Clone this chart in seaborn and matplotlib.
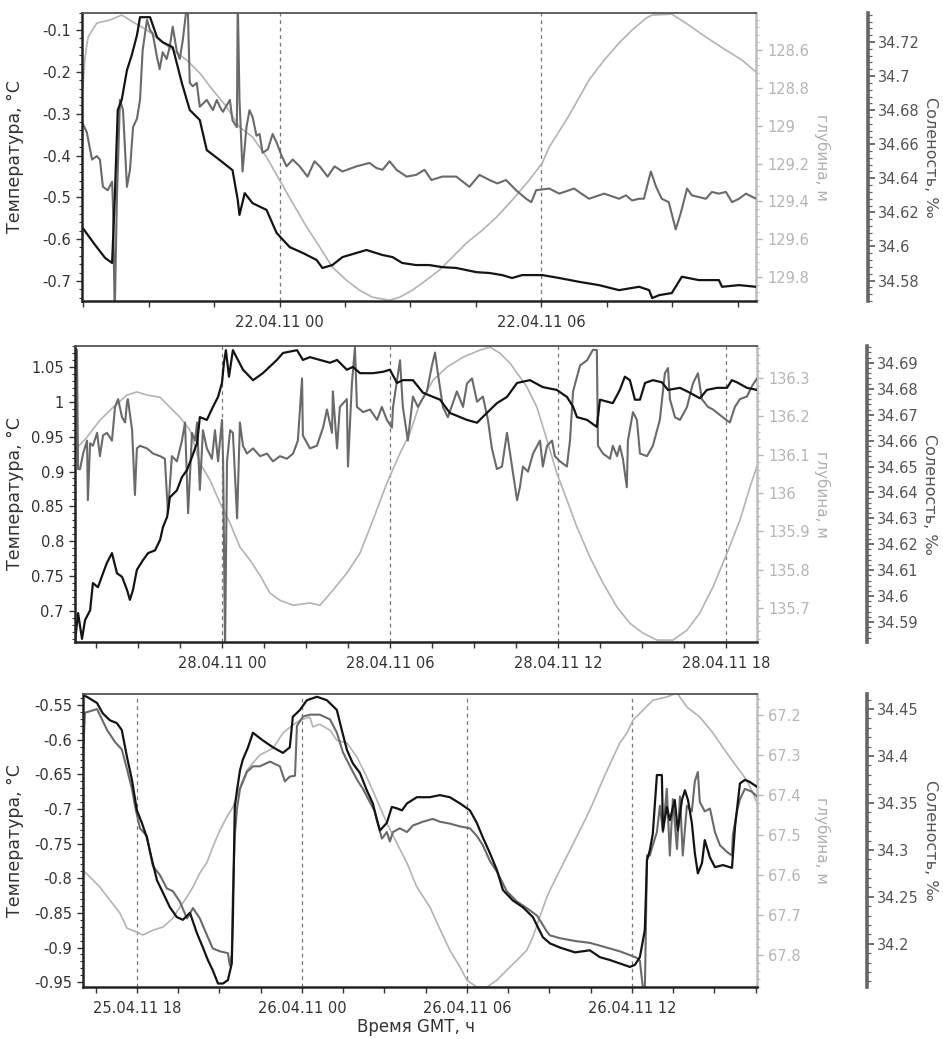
import numpy as np
import pandas as pd
import matplotlib
matplotlib.use("Agg")
import matplotlib.pyplot as plt
import seaborn as sns
from matplotlib.ticker import MultipleLocator, AutoMinorLocator, FuncFormatter, FixedLocator

# ---------------- DATA (hours relative to the first labelled tick of each panel) ----------------
# Panel 1: reference 22.04.11 00:00
P1_XTICK_HOURS = [0, 6]
P1_XTICK_LABELS = ["22.04.11 00", "22.04.11 06"]

P1_TEMP_H = [-4.53,-4.23,-4.00,-3.84,-3.78,-3.71,-3.62,-3.50,-3.39,-3.27,-3.20,-2.97,-2.81,-2.68,-2.45,-2.24,-2.06,-1.83,-1.67,-1.37,
             -1.08,-0.96,-0.92,-0.80,-0.62,-0.30,-0.07,0.23,0.53,0.85,0.98,1.21,1.44,1.99,2.36,2.59,2.81,3.13,3.43,3.73,
             4.05,4.51,4.81,5.10,5.33,5.56,6.02,6.41,6.86,7.32,7.78,8.24,8.47,8.54,8.70,8.99,9.22,9.61,10.07,10.14,10.53,10.92]
P1_TEMP = [-0.571,-0.614,-0.645,-0.657,-0.506,-0.291,-0.267,-0.196,-0.160,-0.112,-0.069,-0.069,-0.117,-0.129,-0.141,-0.227,-0.291,-0.315,-0.387,-0.411,
           -0.435,-0.506,-0.542,-0.490,-0.514,-0.530,-0.585,-0.619,-0.633,-0.650,-0.669,-0.662,-0.643,-0.626,-0.638,-0.643,-0.657,-0.662,-0.662,-0.667,
           -0.669,-0.679,-0.681,-0.686,-0.693,-0.686,-0.686,-0.693,-0.702,-0.710,-0.722,-0.714,-0.722,-0.741,-0.734,-0.729,-0.690,-0.698,-0.698,-0.714,-0.710,-0.714]

P1_SAL_H = [-4.53,-4.42,-4.30,-4.19,-4.12,-4.05,-3.94,-3.84,-3.82,-3.78,-3.73,-3.66,-3.59,-3.50,-3.43,-3.36,-3.27,-3.20,-3.14,-3.04,
            -2.97,-2.91,-2.81,-2.75,-2.68,-2.59,-2.52,-2.45,-2.36,-2.29,-2.22,-2.11,-2.06,-1.99,-1.90,-1.83,-1.67,-1.53,-1.44,-1.37,
            -1.30,-1.14,-1.08,-0.98,-0.96,-0.92,-0.85,-0.76,-0.69,-0.62,-0.53,-0.46,-0.39,-0.27,-0.16,-0.07,0.05,0.16,0.30,0.46,
            0.64,0.80,0.92,1.10,1.26,1.44,1.76,2.06,2.22,2.36,2.52,2.68,2.91,3.13,3.32,3.48,3.73,4.05,4.35,4.58,
            4.81,4.99,5.19,5.42,5.65,5.77,5.88,6.18,6.41,6.75,7.09,7.44,7.78,7.94,8.08,8.24,8.35,8.51,8.63,8.76,
            8.92,9.08,9.20,9.34,9.45,9.77,9.91,10.07,10.23,10.37,10.53,10.69,10.92]
P1_SAL = [34.673,34.667,34.651,34.653,34.651,34.635,34.633,34.638,34.624,34.56,34.628,34.686,34.680,34.635,34.645,34.670,34.675,34.686,34.715,34.733,
          34.727,34.725,34.711,34.704,34.714,34.710,34.717,34.729,34.715,34.710,34.721,34.745,34.696,34.694,34.696,34.682,34.686,34.680,34.686,34.682,
          34.679,34.686,34.674,34.670,34.745,34.686,34.644,34.670,34.680,34.676,34.665,34.666,34.655,34.657,34.666,34.661,34.653,34.647,34.651,34.647,
          34.641,34.650,34.647,34.641,34.647,34.644,34.647,34.649,34.646,34.645,34.650,34.645,34.641,34.642,34.645,34.639,34.641,34.641,34.635,34.642,
          34.639,34.637,34.639,34.633,34.628,34.626,34.633,34.634,34.631,34.634,34.628,34.631,34.628,34.630,34.627,34.628,34.628,34.644,34.635,34.628,
          34.626,34.610,34.620,34.634,34.630,34.628,34.632,34.631,34.632,34.626,34.628,34.631,34.628]

P1_DEP_H = [-4.51,-4.46,-4.39,-4.19,-3.89,-3.62,-3.36,-3.04,-2.75,-2.45,-2.13,-1.83,-1.53,-1.21,-0.92,-0.62,-0.30,0.00,0.30,0.62,
            0.92,1.21,1.53,1.83,2.13,2.52,2.75,3.04,3.36,3.66,3.96,4.28,4.65,4.97,5.33,5.72,6.02,6.18,6.64,7.09,
            7.44,7.78,8.08,8.40,8.54,8.99,9.31,9.77,10.23,10.60,10.92]
P1_DEP = [128.796,128.637,128.531,128.457,128.441,128.415,128.452,128.494,128.547,128.600,128.653,128.722,128.812,128.902,129.007,129.060,129.166,129.288,129.409,129.536,
          129.642,129.748,129.817,129.870,129.907,129.923,129.907,129.870,129.817,129.764,129.695,129.621,129.552,129.484,129.394,129.288,129.198,129.113,128.944,128.759,
          128.653,128.563,128.494,128.431,128.415,128.410,128.457,128.531,128.600,128.653,128.716]

# Panel 2: reference 28.04.11 00:00
P2_XTICK_HOURS = [0, 6, 12, 18]
P2_XTICK_LABELS = ["28.04.11 00", "28.04.11 06", "28.04.11 12", "28.04.11 18"]

P2_TEMP_H = [-5.25,-5.14,-5.00,-4.89,-4.71,-4.61,-4.43,-4.25,-4.11,-3.93,-3.75,-3.57,-3.39,-3.29,-3.18,-3.04,-2.82,-2.64,-2.39,-2.21,
             -2.11,-1.96,-1.86,-1.61,-1.43,-1.25,-1.07,-0.89,-0.79,-0.54,-0.32,-0.14,0.00,0.07,0.14,0.25,0.39,0.75,1.11,1.46,
             1.96,2.18,2.68,2.89,3.14,3.50,3.86,4.11,4.46,4.68,4.93,5.39,5.75,6.00,6.25,6.46,6.82,7.18,7.54,7.79,
             8.14,8.75,9.11,9.46,9.82,10.18,10.54,11.00,11.46,11.96,12.32,12.54,12.68,13.04,13.39,13.50,13.96,14.21,14.39,14.57,
             14.75,14.93,15.11,15.39,15.71,15.93,16.36,16.71,17.07,17.32,17.68,18.04,18.21,18.39,18.75,19.11]
P2_TEMP = [0.655,0.697,0.660,0.687,0.701,0.740,0.734,0.754,0.769,0.783,0.754,0.749,0.730,0.716,0.730,0.759,0.773,0.783,0.787,0.802,
           0.820,0.835,0.863,0.873,0.892,0.902,0.921,0.941,0.978,0.974,0.993,1.007,1.027,1.056,1.074,1.036,1.074,1.046,1.031,1.041,
           1.060,1.070,1.074,1.060,1.064,1.060,1.056,1.060,1.046,1.050,1.041,1.041,1.043,1.046,1.027,1.031,1.031,1.013,1.007,1.003,
           0.984,0.974,0.970,0.984,0.998,1.007,1.027,1.031,1.021,1.017,1.007,0.993,0.978,0.974,0.964,1.003,0.998,1.017,1.036,1.031,
           1.003,1.003,1.027,1.031,1.028,1.017,1.020,1.013,1.005,1.017,1.020,1.020,1.031,1.028,1.020,1.017]

P2_SAL_H = [-5.25,-5.18,-5.14,-5.07,-4.96,-4.82,-4.79,-4.71,-4.61,-4.46,-4.36,-4.25,-4.11,-3.93,-3.82,-3.71,-3.57,-3.46,-3.39,-3.36,
            -3.21,-3.11,-3.04,-2.93,-2.68,-2.46,-2.21,-2.04,-1.93,-1.79,-1.61,-1.43,-1.32,-1.21,-1.07,-0.96,-0.89,-0.79,-0.68,-0.54,
            -0.36,-0.25,-0.14,0.00,0.04,0.11,0.18,0.29,0.39,0.54,0.64,0.75,0.89,1.11,1.36,1.61,1.82,2.07,2.32,2.54,
            2.71,2.86,2.89,3.14,3.39,3.61,3.75,3.93,3.96,4.11,4.21,4.46,4.50,4.64,4.75,4.82,5.04,5.29,5.54,5.71,
            5.89,6.07,6.11,6.29,6.36,6.46,6.64,6.82,7.00,7.32,7.50,7.61,7.71,7.89,8.07,8.39,8.61,8.75,8.93,9.11,
            9.32,9.50,9.64,9.82,10.00,10.18,10.36,10.54,10.64,10.75,10.93,11.11,11.36,11.46,11.61,11.79,11.89,12.07,12.32,12.43,
            12.54,12.79,13.04,13.25,13.39,13.43,13.61,13.86,13.96,14.11,14.21,14.32,14.46,14.50,14.68,14.82,14.93,15.18,15.39,15.64,
            15.82,15.93,16.00,16.18,16.36,16.61,16.82,17.00,17.14,17.36,17.54,17.89,18.14,18.32,18.50,18.75,18.93,19.11]
P2_SAL = [34.695,34.695,34.649,34.649,34.655,34.660,34.637,34.659,34.658,34.663,34.654,34.662,34.663,34.660,34.673,34.676,34.669,34.667,34.675,34.676,
          34.664,34.639,34.657,34.658,34.657,34.655,34.654,34.653,34.632,34.654,34.652,34.660,34.667,34.632,34.663,34.660,34.667,34.641,34.664,34.657,
          34.653,34.664,34.652,34.668,34.652,34.58,34.652,34.664,34.663,34.630,34.667,34.658,34.655,34.657,34.654,34.655,34.652,34.654,34.653,34.655,
          34.660,34.684,34.662,34.657,34.658,34.665,34.672,34.663,34.679,34.657,34.673,34.676,34.650,34.682,34.696,34.673,34.671,34.672,34.668,34.673,
          34.668,34.665,34.673,34.686,34.691,34.673,34.660,34.677,34.673,34.679,34.689,34.694,34.686,34.673,34.669,34.679,34.673,34.682,34.684,34.675,
          34.677,34.668,34.657,34.649,34.650,34.663,34.650,34.637,34.642,34.650,34.648,34.655,34.660,34.650,34.658,34.660,34.654,34.652,34.650,34.660,
          34.679,34.689,34.691,34.695,34.695,34.658,34.655,34.653,34.658,34.654,34.658,34.653,34.642,34.660,34.671,34.668,34.655,34.654,34.658,34.668,
          34.686,34.688,34.676,34.669,34.668,34.673,34.682,34.686,34.676,34.673,34.672,34.669,34.667,34.673,34.676,34.677,34.681,34.684]

P2_DEP_H = [-5.25,-4.82,-4.36,-3.89,-3.39,-3.04,-2.68,-2.21,-1.86,-1.50,-1.14,-0.79,-0.43,-0.07,0.29,0.64,1.00,1.36,1.71,2.07,
            2.54,3.14,3.50,3.96,4.46,4.93,5.39,5.89,6.36,6.71,7.07,7.54,8.04,8.61,9.21,9.57,9.93,10.29,10.64,10.89,
            11.25,11.61,11.96,12.32,12.68,13.14,13.61,14.11,14.57,15.04,15.54,16.11,16.61,17.07,17.54,18.04,18.50,18.86,19.11]
P2_DEP = [136.112,136.146,136.190,136.224,136.256,136.264,136.256,136.250,136.224,136.198,136.164,136.078,136.034,135.974,135.921,135.859,135.825,135.785,135.739,135.720,
          135.707,135.713,135.707,135.746,135.791,135.843,135.929,136.026,136.104,136.156,136.235,136.295,136.329,136.355,136.373,136.381,136.365,136.339,136.303,136.277,
          136.224,136.138,136.052,135.982,135.911,135.833,135.765,135.702,135.660,135.634,135.616,135.616,135.642,135.687,135.755,135.843,135.929,136.016,136.070]

# Panel 3: reference 25.04.11 18:00
P3_XTICK_HOURS = [0, 6, 12, 18]
P3_XTICK_LABELS = ["25.04.11 18", "26.04.11 00", "26.04.11 06", "26.04.11 12"]

P3_TEMP_H = [-1.96,-1.82,-1.45,-1.24,-0.98,-0.73,-0.55,-0.36,-0.18,0.00,0.18,0.36,0.55,0.73,0.95,1.20,1.45,1.67,1.93,2.18,
             2.40,2.58,2.76,2.95,3.13,3.31,3.45,3.49,3.56,3.64,3.75,3.85,4.04,4.22,4.58,4.95,5.31,5.56,5.67,5.93,
             6.18,6.55,6.91,7.27,7.45,7.64,7.85,8.11,8.36,8.58,8.73,8.84,9.09,9.27,9.45,9.64,9.82,10.18,10.65,11.02,
             11.38,11.75,12.11,12.36,12.58,12.84,13.09,13.31,13.67,14.04,14.40,14.76,15.02,15.38,15.93,16.47,16.84,17.20,17.56,17.93,
             18.11,18.29,18.47,18.55,18.65,18.76,18.91,19.09,19.13,19.27,19.38,19.56,19.67,19.82,19.93,20.04,20.18,20.29,20.40,20.55,
             20.65,20.84,21.02,21.31,21.64,21.75,21.93,22.11,22.29,22.55]
P3_TEMP = [-0.536,-0.538,-0.547,-0.562,-0.572,-0.576,-0.586,-0.625,-0.658,-0.702,-0.720,-0.741,-0.774,-0.803,-0.821,-0.842,-0.856,-0.860,-0.850,-0.879,
           -0.900,-0.918,-0.933,-0.952,-0.952,-0.947,-0.923,-0.860,-0.697,-0.673,-0.644,-0.629,-0.611,-0.590,-0.601,-0.611,-0.619,-0.611,-0.567,-0.557,
           -0.543,-0.538,-0.543,-0.557,-0.586,-0.615,-0.634,-0.648,-0.673,-0.692,-0.716,-0.731,-0.720,-0.697,-0.699,-0.702,-0.692,-0.683,-0.683,-0.680,
           -0.683,-0.692,-0.702,-0.720,-0.741,-0.764,-0.788,-0.817,-0.832,-0.842,-0.856,-0.885,-0.894,-0.900,-0.907,-0.904,-0.914,-0.918,-0.923,-0.928,
           -0.925,-0.914,-0.875,-0.774,-0.760,-0.736,-0.651,-0.651,-0.731,-0.697,-0.716,-0.687,-0.731,-0.687,-0.673,-0.687,-0.720,-0.764,-0.793,-0.778,
           -0.745,-0.770,-0.784,-0.781,-0.785,-0.726,-0.663,-0.658,-0.661,-0.668]

P3_SAL_H = [-1.96,-1.89,-1.45,-1.09,-0.80,-0.55,-0.36,-0.18,-0.07,0.11,0.36,0.58,0.84,1.09,1.31,1.56,1.82,2.04,2.29,2.55,
            2.76,3.02,3.31,3.38,3.45,3.49,3.56,3.64,3.75,4.00,4.22,4.47,4.84,5.20,5.38,5.56,5.75,5.82,6.04,6.29,
            6.65,7.02,7.27,7.49,7.75,8.00,8.22,8.47,8.65,8.84,8.91,9.09,9.20,9.31,9.56,9.82,10.04,10.40,10.76,11.02,
            11.38,11.75,12.11,12.36,12.58,12.84,13.09,13.45,13.82,14.18,14.55,14.91,15.02,15.38,15.93,16.47,16.84,17.20,17.56,17.93,
            18.18,18.29,18.40,18.47,18.55,18.65,18.76,18.91,19.02,19.13,19.27,19.38,19.49,19.64,19.75,19.85,20.00,20.18,20.29,20.40,
            20.47,20.65,20.84,21.02,21.20,21.45,21.64,21.67,21.82,21.93,22.11,22.36,22.55]
P3_SAL = [34.400,34.446,34.450,34.428,34.415,34.407,34.386,34.365,34.347,34.323,34.315,34.283,34.273,34.259,34.256,34.245,34.227,34.238,34.227,34.209,
          34.195,34.192,34.190,34.177,34.188,34.252,34.315,34.344,34.365,34.383,34.389,34.389,34.394,34.389,34.373,34.378,34.379,34.432,34.442,34.444,
          34.444,34.439,34.425,34.404,34.389,34.375,34.365,34.351,34.341,34.319,34.312,34.319,34.309,34.319,34.323,34.319,34.326,34.330,34.333,34.330,
          34.328,34.325,34.323,34.315,34.305,34.288,34.277,34.256,34.245,34.238,34.230,34.213,34.209,34.206,34.203,34.201,34.198,34.195,34.192,34.188,
          34.185,34.182,34.153,34.146,34.294,34.294,34.305,34.319,34.347,34.319,34.365,34.294,34.354,34.301,34.357,34.294,34.347,34.341,34.373,34.383,
          34.351,34.341,34.344,34.319,34.305,34.298,34.294,34.315,34.341,34.354,34.365,34.362,34.357]

P3_DEP_H = [-1.96,-1.71,-1.35,-0.98,-0.62,-0.36,0.00,0.22,0.58,0.95,1.31,1.56,1.82,2.04,2.29,2.55,2.76,3.02,3.27,3.49,
            3.75,4.00,4.22,4.47,4.95,5.31,5.67,5.93,6.29,6.40,6.65,7.02,7.27,7.64,8.00,8.36,8.73,9.09,9.45,9.82,
            10.18,10.65,11.02,11.38,11.75,12.00,12.36,12.73,13.09,13.45,13.82,14.18,14.40,14.65,14.91,15.02,15.38,15.93,16.47,17.02,
            17.56,17.82,18.04,18.40,18.76,19.27,19.64,20.00,20.47,20.95,21.45,21.82,22.18,22.40,22.55]
P3_DEP = [67.588,67.605,67.630,67.663,67.695,67.733,67.743,67.750,67.738,67.730,67.708,67.680,67.655,67.630,67.595,67.568,67.530,67.488,67.455,67.430,
          67.380,67.338,67.320,67.300,67.283,67.245,67.225,67.213,67.205,67.230,67.223,67.238,67.263,67.270,67.305,67.355,67.413,67.470,67.520,67.570,
          67.630,67.680,67.735,67.788,67.830,67.863,67.880,67.880,67.863,67.838,67.813,67.788,67.755,67.705,67.655,67.638,67.588,67.513,67.438,67.350,
          67.270,67.245,67.213,67.188,67.163,67.155,67.145,67.180,67.205,67.245,67.295,67.330,67.363,67.395,67.420]

TEMP_LABEL = "Температура, °C"
DEPTH_LABEL = "глубина, м"
SAL_LABEL = "Соленость, ‰"
X_LABEL = "Время GMT, ч"

# ---------------- STYLE ----------------
sns.set_style("ticks")
plt.rcParams['font.family'] = ['DejaVu Sans']
plt.rcParams['axes.unicode_minus'] = False

C_TEMP = "#141414"
C_SAL = "#6a6a6a"
C_DEP = "#b3b3b3"
C_TXT = "#333333"

W, H = 943, 1039
fig = plt.figure(figsize=(W / 100, H / 100), dpi=100)
fig.patch.set_facecolor("white")


def fmt(v, p):
    return f"{round(v, 5):g}"


def px_rect(l, t, r, b):
    return [l / W, (H - b) / H, (r - l) / W, (b - t) / H]


panels = [
    dict(rect=(82, 13, 756, 301), xlim=(-4.53, 10.92),
         xt=P1_XTICK_HOURS, xl=P1_XTICK_LABELS,
         temp=(P1_TEMP_H, P1_TEMP), sal=(P1_SAL_H, P1_SAL), dep=(P1_DEP_H, P1_DEP),
         tlim=(-0.748, -0.059), tstep=0.1,
         dlim=(129.927, 128.404), dstep=0.2,
         slim=(34.568, 34.737), sstep=0.02, spos=868, xlabel=False),
    dict(rect=(75, 346, 757, 642), xlim=(-5.25, 19.11),
         xt=P2_XTICK_HOURS, xl=P2_XTICK_LABELS,
         temp=(P2_TEMP_H, P2_TEMP), sal=(P2_SAL_H, P2_SAL), dep=(P2_DEP_H, P2_DEP),
         tlim=(0.6555, 1.080), tstep=0.05,
         dlim=(135.611, 136.384), dstep=0.1,
         slim=(34.5823, 34.6965), sstep=0.01, spos=867, xlabel=False),
    dict(rect=(83, 694, 757, 987), xlim=(-1.96, 22.55),
         xt=P3_XTICK_HOURS, xl=P3_XTICK_LABELS,
         temp=(P3_TEMP_H, P3_TEMP), sal=(P3_SAL_H, P3_SAL), dep=(P3_DEP_H, P3_DEP),
         tlim=(-0.957, -0.534), tstep=0.05,
         dlim=(67.88, 67.1475), dstep=0.1,
         slim=(34.154, 34.466), sstep=0.05, spos=867, xlabel=True),
]

for p in panels:
    l, t, r, b = p["rect"]
    wpx = r - l
    ax = fig.add_axes(px_rect(l, t, r, b))
    axd = ax.twinx()
    axs = ax.twinx()
    axd.set_zorder(1)
    axs.set_zorder(2)
    ax.set_zorder(3)
    ax.patch.set_visible(False)
    axd.patch.set_visible(False)
    axs.patch.set_visible(False)

    sns.lineplot(x=p["dep"][0], y=p["dep"][1], ax=axd, color=C_DEP, linewidth=1.2,
                 sort=False, estimator=None)
    sns.lineplot(x=p["sal"][0], y=p["sal"][1], ax=axs, color=C_SAL, linewidth=1.5,
                 sort=False, estimator=None)
    sns.lineplot(x=p["temp"][0], y=p["temp"][1], ax=ax, color=C_TEMP, linewidth=1.6,
                 sort=False, estimator=None)

    for xv in p["xt"]:
        axd.axvline(xv, color="#777777", linewidth=0.9, linestyle=(0, (3, 3)), zorder=0)

    ax.set_xlim(*p["xlim"])
    ax.set_ylim(*p["tlim"])
    axd.set_ylim(*p["dlim"])
    axs.set_ylim(*p["slim"])

    # x ticks every 1.5 h, labels at 6 h
    x0 = np.ceil(p["xlim"][0] / 1.5 - 1e-6) * 1.5
    ticks = np.arange(x0, p["xlim"][1] + 1e-6, 1.5)
    ax.xaxis.set_major_locator(FixedLocator(ticks))
    lab = {round(h, 3): s for h, s in zip(p["xt"], p["xl"])}
    ax.xaxis.set_major_formatter(FuncFormatter(lambda v, pos, lab=lab: lab.get(round(v, 3), "")))
    ax.tick_params(axis="x", direction="out", length=4, width=1, colors=C_TXT,
                   labelsize=10.5, pad=6)

    # temperature axis
    ax.yaxis.set_major_locator(MultipleLocator(p["tstep"]))
    ax.yaxis.set_minor_locator(AutoMinorLocator(5))
    ax.yaxis.set_major_formatter(FuncFormatter(fmt))
    ax.tick_params(axis="y", which="major", direction="out", length=4, width=1,
                   colors=C_TXT, labelsize=10.5, pad=4)
    ax.tick_params(axis="y", which="minor", direction="out", length=2.5, width=0.8, colors=C_TXT)
    for s in ("left", "bottom"):
        ax.spines[s].set_color("#222222")
        ax.spines[s].set_linewidth(1.8)
    ax.spines["top"].set_color("#555555")
    ax.spines["top"].set_linewidth(1.3)
    ax.spines["right"].set_visible(False)

    # depth axis
    for s in ("left", "top", "bottom"):
        axd.spines[s].set_visible(False)
    axd.spines["right"].set_color("#bdbdbd")
    axd.spines["right"].set_linewidth(1.8)
    axd.yaxis.set_major_locator(MultipleLocator(p["dstep"]))
    axd.yaxis.set_minor_locator(AutoMinorLocator(5))
    axd.yaxis.set_major_formatter(FuncFormatter(fmt))
    axd.tick_params(axis="y", which="major", direction="out", length=4, width=1,
                    colors="#b5b5b5", labelsize=10.5, pad=4)
    axd.tick_params(axis="y", which="minor", direction="out", length=2.5, width=0.8, colors="#bdbdbd")

    # salinity axis
    for s in ("left", "top", "bottom"):
        axs.spines[s].set_visible(False)
    axs.spines["right"].set_position(("axes", (p["spos"] - l) / wpx))
    axs.spines["right"].set_color("#666666")
    axs.spines["right"].set_linewidth(2.6)
    axs.yaxis.set_major_locator(MultipleLocator(p["sstep"]))
    axs.yaxis.set_minor_locator(AutoMinorLocator(5))
    axs.yaxis.set_major_formatter(FuncFormatter(fmt))
    axs.tick_params(axis="y", which="major", direction="out", length=5, width=1.2,
                    colors="#555555", labelsize=10.5, pad=2)
    axs.tick_params(axis="y", which="minor", direction="out", length=3, width=0.9, colors="#666666")

    # labels
    ax.set_ylabel(TEMP_LABEL, fontsize=12.5, color=C_TXT)
    ax.yaxis.label.set_va("center")
    ax.yaxis.label.set_ha("center")
    ax.yaxis.set_label_coords((15 - l) / wpx, 0.5)

    axd.set_ylabel(DEPTH_LABEL, fontsize=11, color="#b0b0b0", rotation=270)
    axd.yaxis.label.set_va("center")
    axd.yaxis.label.set_ha("center")
    axd.yaxis.set_label_coords((822 - l) / wpx, 0.5)

    axs.set_ylabel(SAL_LABEL, fontsize=11.5, color="#555555", rotation=270)
    axs.yaxis.label.set_va("center")
    axs.yaxis.label.set_ha("center")
    axs.yaxis.set_label_coords((930 - l) / wpx, 0.5)

    if p["xlabel"]:
        ax.set_xlabel(X_LABEL, fontsize=12, color=C_TXT)
        ax.xaxis.label.set_va("center")
        ax.xaxis.set_label_coords((416 - l) / wpx, (b - 1027) / (b - t))
    else:
        ax.set_xlabel("")

fig.savefig("out.png", dpi=100, facecolor="white")
